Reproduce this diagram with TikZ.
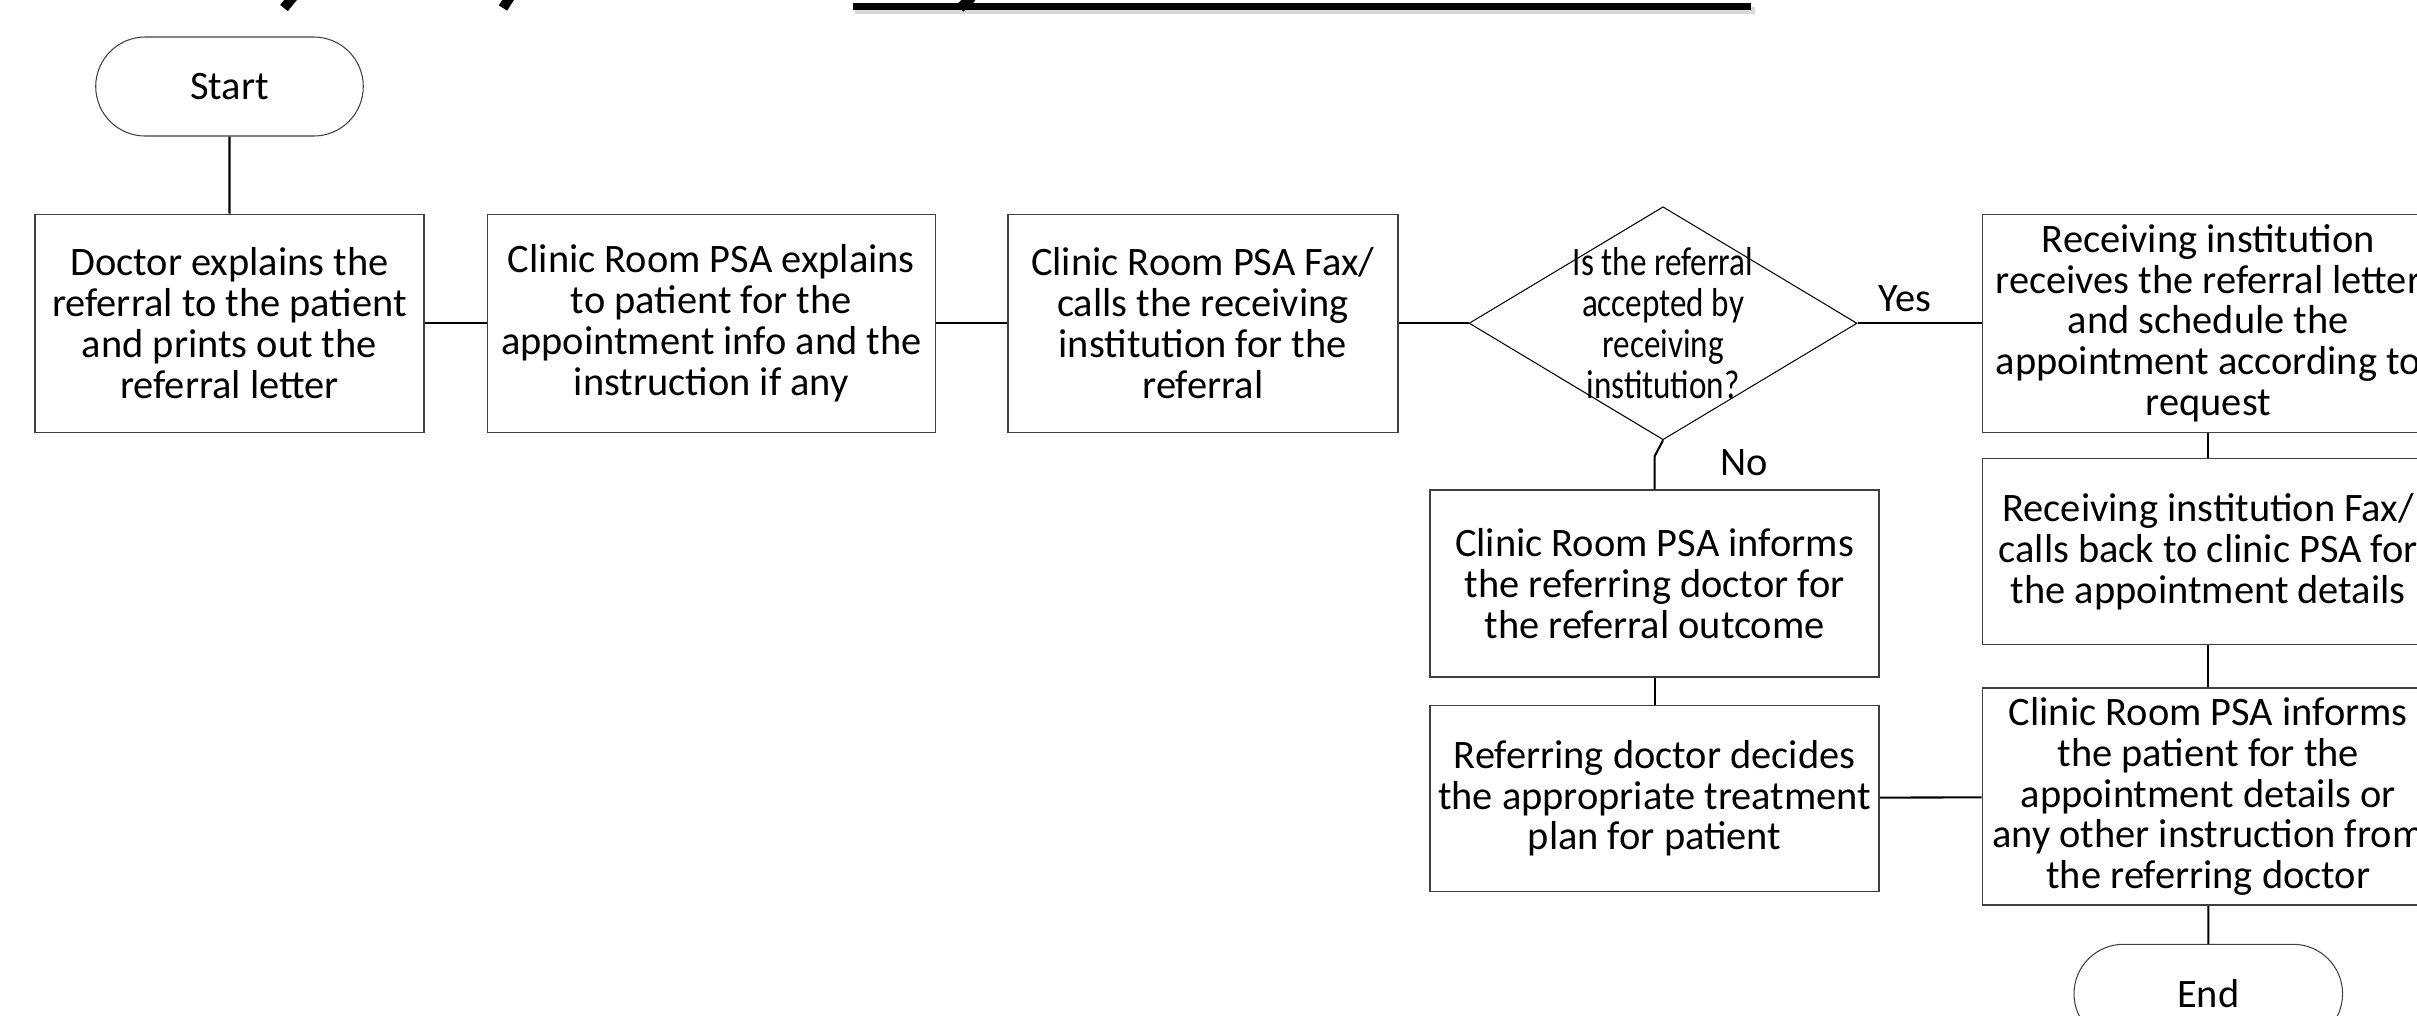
\documentclass[tikz,border=0pt]{standalone}
\usepackage{fontspec}
\setmainfont{Carlito}
\newfontfamily\narrowfont[FakeStretch=0.82]{Carlito}
\usetikzlibrary{positioning,shapes.geometric,shapes.misc,calc}

\begin{document}
\begin{tikzpicture}[
			node distance=0.7cm,
			font=\fontsize{11.5}{11.6}\selectfont,
			% Define styles for the flowchart shapes
			terminal/.style={rounded rectangle, draw=black!75, line width=0.3pt, minimum width=2.91cm, minimum height=0.99cm},
			process/.style={rectangle, draw=black!75, line width=0.4pt, align=center, minimum width=3.9cm, minimum height=2.18cm, inner sep=1pt},
			decision/.style={diamond, draw, line width=0.3pt, minimum width=3.88cm, minimum height=2.33cm, inner sep=0pt},
			link/.style={line width=0.6pt, color=black},
			lbl/.style={inner sep=1pt}
			]
			
			\useasboundingbox (0,0) rectangle (24.17,-10.15);
			\clip (0,0) rectangle (24.17,-10.15);
			
			% --- Title (cut off at the top edge) ---
			\fill[black!15] (8.55,-0.07) rectangle (17.55,-0.14);
			\fill (8.53,-0.033) rectangle (17.51,-0.095);
			\draw[line width=2.8pt] (2.93,0.03) -- (2.84,-0.08);
			\draw[line width=2.8pt] (5.10,0.03) -- (5.03,-0.08);
			\draw[line width=2.8pt] (9.72,0.03) -- (9.60,-0.08);
			
			% --- Nodes ---
			\node (start) [terminal] at (2.295,-0.865) {Start};
			
			\node (doctor) [process, below=0.77cm of start, minimum width=3.89cm] {Doctor explains the\\referral to the patient\\and prints out the\\referral letter};
			
			\node (explain) [process, right=0.62cm of doctor, minimum width=4.48cm] {Clinic Room PSA explains\\to patient for the\\appointment info and the\\instruction if any};
			
			\node (faxcall) [process, right=0.71cm of explain, minimum width=3.9cm] {Clinic Room PSA Fax/\\calls the receiving\\institution for the\\referral};
			
			\node (accepted) [decision, right=0.70cm of faxcall] {};
			\node (acceptedtext) [align=center, inner sep=0pt, font=\narrowfont\fontsize{11.5}{11.6}\selectfont] at (accepted) {Is the referral\\accepted by\\receiving\\institution?};
			
			% Right column: accepted path
			\node (receives) [process, right=1.24cm of accepted, minimum width=4.52cm] {Receiving institution\\receives the referral letter\\and schedule the\\appointment according to\\request};
			
			\node (callback) [process, below=0.25cm of receives, minimum width=4.52cm, minimum height=1.86cm] {Receiving institution Fax/\\calls back to clinic PSA for\\the appointment details};
			
			\node (informpatient) [process, below=0.42cm of callback, minimum width=4.52cm, minimum height=2.17cm] {Clinic Room PSA informs\\the patient for the\\appointment details or\\any other instruction from\\the referring doctor};
			
			\node (end) [terminal, below=0.38cm of informpatient, minimum width=2.92cm] {End};
			
			% Middle column: not accepted path
			\node (informdoctor) [process, below=0.49cm of accepted, xshift=-0.085cm, minimum width=4.49cm, minimum height=1.87cm] {Clinic Room PSA informs\\the referring doctor for\\the referral outcome};
			
			\node (decides) [process, below=0.27cm of informdoctor, minimum width=4.49cm, minimum height=1.86cm] {Referring doctor decides\\the appropriate treatment\\plan for patient};
			
			% --- Connectors ---
			\draw[link] (start) -- (doctor);
			\draw[link] (doctor) -- (explain);
			\draw[link] (explain) -- (faxcall);
			\draw[link] (faxcall) -- (accepted);
			
			% Decision branches
			\draw[link] (accepted) -- node[lbl, above=2pt, xshift=-0.15cm] {Yes} (receives);
			\coordinate (nobend) at ([yshift=0.33cm]informdoctor.north);
			\draw[link] (accepted.south) -- (nobend) -- (informdoctor);
			\node (nolabel) [lbl, right=0.62cm of nobend, yshift=-0.06cm] {No};
			
			\draw[link] (receives) -- (callback);
			\draw[link] (callback) -- (informpatient);
			\draw[link] (informpatient) -- (end);
			\draw[link] (informdoctor) -- (decides);
			\draw[link] (informpatient) -- (decides);
			
		\end{tikzpicture}
\end{document}
